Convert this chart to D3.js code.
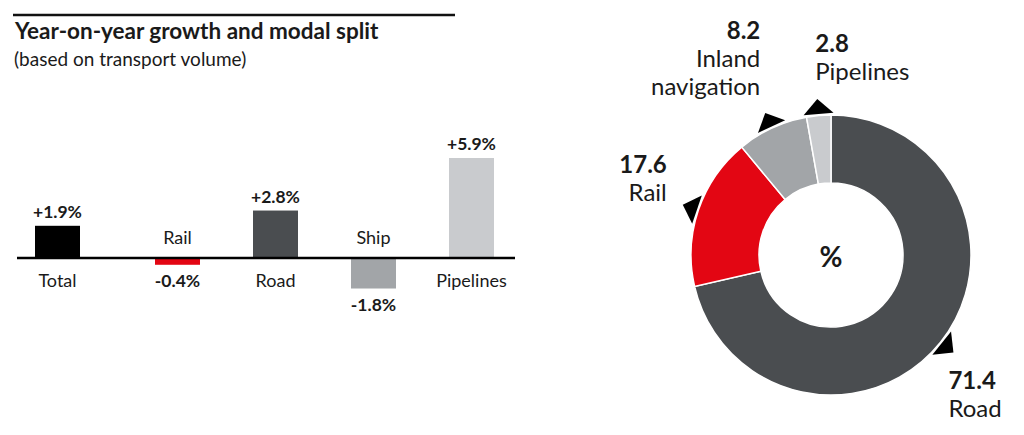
<!DOCTYPE html>
<html>
<head>
<meta charset="utf-8">
<script src="https://cdn.jsdelivr.net/npm/d3@7/dist/d3.min.js"></script>
<style>
  html, body { margin: 0; padding: 0; background: #fff; }
  svg { display: block; font-family: Lato, "Noto Sans", sans-serif; }
</style>
</head>
<body>
<svg id="chart" width="1024" height="435"></svg>
<script>
// ---- Data ----
const titleText = "Year-on-year growth and modal split";
const subtitleText = "(based on transport volume)";

const categories = ["Total", "Rail", "Road", "Ship", "Pipelines"];
const growth = [1.9, -0.4, 2.8, -1.8, 5.9];
const growthLabels = ["+1.9%", "-0.4%", "+2.8%", "-1.8%", "+5.9%"];
const barColors = ["#000000", "#e30613", "#4a4d50", "#a2a5a8", "#c9cbce"];

const splitModes = ["Road", "Rail", "Inland navigation", "Pipelines"];
const splitShares = [71.4, 17.6, 8.2, 2.8];
const splitLabels = ["71.4", "17.6", "8.2", "2.8"];
const splitColors = ["#4a4d50", "#e30613", "#a2a5a8", "#c9cbce"];

// ---- Setup ----
const svg = d3.select("#chart");

// Title block
svg.append("line").attr("x1", 13).attr("x2", 455).attr("y1", 15).attr("y2", 15)
  .attr("stroke", "#111").attr("stroke-width", 2.5);
svg.append("text").attr("x", 15).attr("y", 39).text(titleText)
  .attr("font-weight", 700).attr("font-size", 22.5).attr("fill", "#1a1a1a");
svg.append("text").attr("x", 14).attr("y", 66).text(subtitleText)
  .attr("font-size", 19).attr("fill", "#1a1a1a");

// ---- Bar chart ----
const x = d3.scalePoint().domain(categories).range([79.5, 471.5]);
const totalShift = -22; // Total is set apart from the modes
const xc = (c, i) => x(c) + (i === 0 ? totalShift : 0);
const y = d3.scaleLinear().domain([0, 5.9]).range([258, 158]);
const barW = 45;

const bars = categories.map((c, i) => ({ c, v: growth[i], lab: growthLabels[i], col: barColors[i], i }));

svg.append("g").selectAll("rect").data(bars).join("rect")
  .attr("x", d => xc(d.c, d.i) - barW / 2)
  .attr("width", barW)
  .attr("y", d => Math.min(y(d.v), y(0)))
  .attr("height", d => Math.abs(y(d.v) - y(0)))
  .attr("fill", d => d.col);

svg.append("line").attr("x1", 17).attr("x2", 515).attr("y1", y(0)).attr("y2", y(0))
  .attr("stroke", "#000").attr("stroke-width", 2.5);

// value labels
svg.append("g").selectAll("text").data(bars).join("text")
  .attr("x", d => xc(d.c, d.i))
  .attr("y", d => d.v >= 0 ? y(d.v) - 8 : y(d.v) + 22)
  .attr("text-anchor", "middle")
  .attr("font-weight", 700).attr("font-size", 17.5).attr("fill", "#1a1a1a")
  .text(d => d.lab);

// category labels
svg.append("g").selectAll("text").data(bars).join("text")
  .attr("x", d => xc(d.c, d.i))
  .attr("y", d => d.v >= 0 ? y(0) + 29 : y(0) - 14)
  .attr("text-anchor", "middle")
  .attr("font-size", 18).attr("fill", "#1a1a1a")
  .text(d => d.c);

// ---- Donut ----
const cx = 831, cy = 255, rOuter = 140, rInner = 72;
const g = svg.append("g").attr("transform", `translate(${cx},${cy})`);
const pie = d3.pie().sort(null).value(d => d.v);
const slices = pie(splitModes.map((m, i) => ({ m, v: splitShares[i], lab: splitLabels[i], col: splitColors[i], i })));
const arc = d3.arc().innerRadius(rInner).outerRadius(rOuter);

g.selectAll("path.slice").data(slices).join("path")
  .attr("class", "slice")
  .attr("d", arc)
  .attr("fill", d => d.data.col)
  .attr("stroke", "#fff").attr("stroke-width", 1.5);

// pointer triangles (right isosceles, hypotenuse on ring)
const rBase = 141.5, tri = 15;
const mid = d => (d.startAngle + d.endAngle) / 2;
g.selectAll("path.tri").data(slices).join("path")
  .attr("class", "tri")
  .attr("d", d => {
    const a = mid(d);
    const ux = Math.sin(a), uy = -Math.cos(a);   // radial
    const tx = Math.cos(a), ty = Math.sin(a);    // tangent
    const bx = ux * rBase, by = uy * rBase;
    const p1 = [bx + tx * tri, by + ty * tri];
    const p2 = [bx - tx * tri, by - ty * tri];
    const p3 = [bx + ux * tri, by + uy * tri];
    return `M${p1}L${p2}L${p3}Z`;
  })
  .attr("fill", "#000");

g.append("text").attr("x", 0).attr("y", 12).attr("text-anchor", "middle")
  .attr("font-weight", 700).attr("font-size", 28).attr("fill", "#1a1a1a").text("%");

// labels, positioned relative to each pointer apex
const labelLayout = [
  { anchor: "start", dx: -5, dy: 37 },   // Road (text below)
  { anchor: "end", dx: -16, dy: -32 },   // Rail
  { anchor: "end", dx: -5, dy: -74 },    // Inland navigation
  { anchor: "start", dx: -2, dy: -47 }   // Pipelines
];
const rApex = rBase + tri;
slices.forEach((d, i) => {
  const a = mid(d);
  const ax = Math.sin(a) * rApex, ay = -Math.cos(a) * rApex;
  const L = labelLayout[i];
  const t = g.append("text")
    .attr("text-anchor", L.anchor)
    .attr("font-size", 24).attr("fill", "#1a1a1a");
  const lines = d.data.m === "Inland navigation" ? ["Inland", "navigation"] : [d.data.m];
  t.append("tspan").attr("x", ax + L.dx).attr("y", ay + L.dy)
    .attr("font-weight", 700).text(d.data.lab);
  lines.forEach(l => {
    t.append("tspan").attr("x", ax + L.dx).attr("dy", 28).text(l);
  });
});
</script>
</body>
</html>
